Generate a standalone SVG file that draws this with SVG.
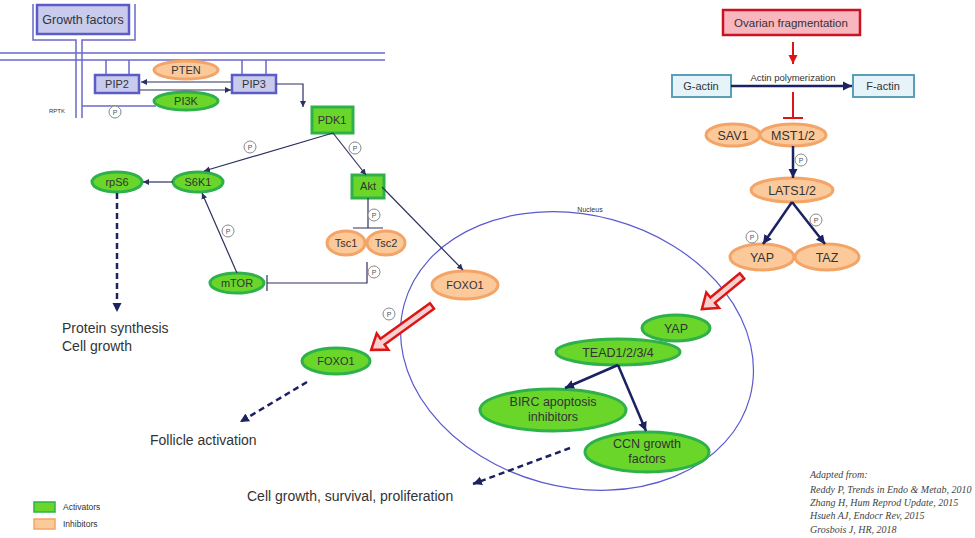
<svg xmlns="http://www.w3.org/2000/svg" width="975" height="538" viewBox="0 0 975 538">
<style>
text{font-family:"Liberation Sans",Arial,sans-serif;fill:#333;text-anchor:middle}
.g{fill:#6ad62a;stroke:#2eb04a;stroke-width:3}
.o{fill:#fcc99b;stroke:#f3a466;stroke-width:3}
.b{fill:#c8cbec;stroke:#5c5cc8;stroke-width:2.5}
.gb{fill:#6ad62a;stroke:#2eb04a;stroke-width:3}
.mem{stroke:#6a6acc;stroke-width:1.5;fill:none}
.c{stroke:#2c3060;stroke-width:1.2;fill:none}
.ct{stroke:#1c2160;stroke-width:2.5;fill:none}
.d{stroke:#1c2160;stroke-width:2.5;fill:none;stroke-dasharray:6 4}
.p circle{fill:#fff;stroke:#888;stroke-width:1}
.p text{font-size:7px;fill:#555}
.ra{fill:#f9d0d0;stroke:#dd1515;stroke-width:2.5}
.lbl{font-size:11px}
.lb2{font-size:12.5px}
.ref{font-family:"Liberation Serif",serif;font-style:italic;font-size:10px;text-anchor:start;fill:#444}
</style>
<defs>
<marker id="a" markerUnits="userSpaceOnUse" markerWidth="7" markerHeight="7" refX="6" refY="3.5" orient="auto"><path d="M0,0.5 L6,3.5 L0,6.5 z" fill="#2c3060"/></marker>
<marker id="at" markerUnits="userSpaceOnUse" markerWidth="10" markerHeight="10" refX="9" refY="5" orient="auto"><path d="M0,0.5 L9,5 L0,9.5 z" fill="#1c2160"/></marker>
<marker id="ar" markerUnits="userSpaceOnUse" markerWidth="10" markerHeight="10" refX="9" refY="5" orient="auto"><path d="M0,0.5 L9,5 L0,9.5 z" fill="#dd1515"/></marker>
</defs>

<!-- membrane and receptor -->
<g id="membrane">
<line class="mem" x1="0" y1="53" x2="385" y2="53"/>
<line class="mem" x1="0" y1="60" x2="385" y2="60"/>
<path class="mem" d="M33,4 V40 H76 V118"/>
<path class="mem" d="M135,4 V40 H82 V118"/>
<path class="mem" d="M106,60 V75 M129,60 V75 M242,60 V75 M266,60 V75"/>
<path class="mem" d="M82,106 H156"/>
<text x="57" y="113" style="font-size:6px">RPTK</text>
</g>

<g id="growth-factors"><rect class="b" x="37" y="5" width="92" height="29"/><text x="83" y="24" style="font-size:12.5px">Growth factors</text></g>
<g id="pip2"><rect class="b" x="95" y="75" width="44" height="18"/><text class="lbl" x="117" y="88">PIP2</text></g>
<g id="pip3"><rect class="b" x="232" y="75" width="44" height="18"/><text class="lbl" x="254" y="88">PIP3</text></g>
<g id="pten"><ellipse class="o" cx="186" cy="70" rx="32" ry="9"/><text class="lbl" x="186" y="74">PTEN</text></g>
<g id="pi3k"><ellipse class="g" cx="186" cy="101" rx="32" ry="9"/><text class="lbl" x="186" y="105">PI3K</text></g>
<g id="pdk1"><rect class="gb" x="312" y="107" width="41" height="26"/><text class="lbl" x="332" y="124">PDK1</text></g>
<g id="akt"><rect class="gb" x="352" y="175" width="32" height="23"/><text class="lbl" x="368" y="190">Akt</text></g>
<g id="s6k1"><ellipse class="g" cx="198" cy="182" rx="25" ry="10"/><text class="lbl" x="198" y="186">S6K1</text></g>
<g id="rps6"><ellipse class="g" cx="117" cy="182" rx="25" ry="10"/><text class="lbl" x="117" y="186">rpS6</text></g>
<g id="mtor"><ellipse class="g" cx="237" cy="283" rx="27" ry="10"/><text class="lbl" x="237" y="287">mTOR</text></g>
<g id="tsc1"><ellipse class="o" cx="346" cy="243" rx="19" ry="12"/><text class="lbl" x="346" y="247">Tsc1</text></g>
<g id="tsc2"><ellipse class="o" cx="386" cy="243" rx="19" ry="12"/><text class="lbl" x="386" y="247">Tsc2</text></g>
<g id="foxo1-cyt"><ellipse class="o" cx="465" cy="285" rx="33" ry="14"/><text class="lbl" x="465" y="289">FOXO1</text></g>
<g id="foxo1-act"><ellipse class="g" cx="336" cy="361" rx="34" ry="13"/><text class="lbl" x="336" y="365">FOXO1</text></g>

<!-- right side -->
<g id="ovarian"><rect x="723" y="10" width="137" height="25" fill="#f8b6be" stroke="#cc1122" stroke-width="2.5"/><text x="791" y="27" style="font-size:11.5px">Ovarian fragmentation</text></g>
<g id="g-actin"><rect x="672" y="75" width="59" height="22" fill="#e6f3f8" stroke="#5a9fb8" stroke-width="2"/><text class="lbl" x="701" y="90">G-actin</text></g>
<g id="f-actin"><rect x="853" y="75" width="61" height="22" fill="#e6f3f8" stroke="#5a9fb8" stroke-width="2"/><text class="lbl" x="883" y="90">F-actin</text></g>
<g id="sav1"><ellipse class="o" cx="733" cy="135" rx="27" ry="11"/><text class="lb2" x="733" y="139.5">SAV1</text></g>
<g id="mst"><ellipse class="o" cx="793" cy="135" rx="33" ry="11"/><text class="lb2" x="793" y="139.5">MST1/2</text></g>
<g id="lats"><ellipse class="o" cx="792" cy="190" rx="41" ry="12"/><text class="lb2" x="792" y="194.5">LATS1/2</text></g>
<g id="yap-cyt"><ellipse class="o" cx="762" cy="257" rx="32" ry="13"/><text class="lb2" x="762" y="261.5">YAP</text></g>
<g id="taz"><ellipse class="o" cx="827" cy="257" rx="32" ry="13"/><text class="lb2" x="827" y="261.5">TAZ</text></g>

<!-- nucleus -->
<g id="nucleus">
<ellipse cx="577" cy="351" rx="179" ry="136" transform="rotate(15 577 351)" fill="none" stroke="#5a5ad0" stroke-width="1.2"/>
<text x="590" y="212" style="font-size:7px">Nucleus</text>
</g>
<g id="yap-nuc"><ellipse class="g" cx="676" cy="328" rx="34" ry="13"/><text class="lb2" x="676" y="332.5">YAP</text></g>
<g id="tead"><ellipse class="g" cx="618" cy="352" rx="62" ry="13"/><text class="lb2" x="618" y="356.5">TEAD1/2/3/4</text></g>
<g id="birc"><ellipse class="g" cx="553" cy="410" rx="73" ry="21"/><text class="lb2" x="553" y="406">BIRC apoptosis</text><text class="lb2" x="553" y="421">inhibitors</text></g>
<g id="ccn"><ellipse class="g" cx="647" cy="452" rx="62" ry="20"/><text class="lb2" x="647" y="448">CCN growth</text><text class="lb2" x="647" y="463">factors</text></g>

<!-- connectors -->
<g id="connectors">
<line class="c" x1="231" y1="82" x2="141" y2="82" marker-end="url(#a)"/>
<line class="c" x1="140" y1="90" x2="231" y2="90" marker-end="url(#a)"/>
<path class="c" d="M276,84 H303 V107" marker-end="url(#a)"/>
<line class="c" x1="333" y1="133" x2="366" y2="175" marker-end="url(#a)"/>
<line class="c" x1="333" y1="133" x2="204" y2="171" marker-end="url(#a)"/>
<line class="c" x1="173" y1="182" x2="143" y2="182" marker-end="url(#a)"/>
<line class="c" x1="237" y1="273" x2="202" y2="193" marker-end="url(#a)"/>
<path class="c" d="M368,198 V228 M353,228 H383"/>
<path class="c" d="M367,262 V283 H267 M267,275 V291"/>
<line class="c" x1="382" y1="187" x2="463" y2="270" marker-end="url(#a)"/>
<line class="d" x1="117" y1="193" x2="117" y2="312" marker-end="url(#at)"/>
<line class="d" x1="307" y1="382" x2="240" y2="422" marker-end="url(#at)"/>
<line class="d" x1="570" y1="448" x2="473" y2="484" marker-end="url(#at)"/>
<line x1="793" y1="42" x2="793" y2="64" stroke="#dd1515" stroke-width="2" marker-end="url(#ar)"/>
<line class="ct" x1="731" y1="86" x2="852" y2="86" marker-end="url(#at)"/>
<path d="M793,92 V118 M783,118 H803" stroke="#dd1515" stroke-width="2" fill="none"/>
<line class="ct" x1="793" y1="146" x2="793" y2="178" marker-end="url(#at)"/>
<line class="ct" x1="792" y1="202" x2="763" y2="244" marker-end="url(#at)"/>
<line class="ct" x1="792" y1="202" x2="825" y2="244" marker-end="url(#at)"/>
<line class="ct" x1="618" y1="365" x2="565" y2="388" marker-end="url(#at)"/>
<line class="ct" x1="618" y1="365" x2="646" y2="431" marker-end="url(#at)"/>
<path class="ra" transform="translate(432,306) rotate(144.2)" d="M0,-3.5 H61 V-10 L75,0 L61,10 V3.5 H0 Z"/>
<path class="ra" transform="translate(742,276) rotate(140.5)" d="M0,-3.5 H38 V-10 L52,0 L38,10 V3.5 H0 Z"/>
<g class="p">
<circle cx="115" cy="112" r="6"/><text x="115" y="114.5">P</text>
<circle cx="250" cy="147" r="6"/><text x="250" y="149.5">P</text>
<circle cx="355" cy="148" r="6"/><text x="355" y="150.5">P</text>
<circle cx="228" cy="231" r="6"/><text x="228" y="233.5">P</text>
<circle cx="374" cy="215" r="6"/><text x="374" y="217.5">P</text>
<circle cx="374" cy="272" r="6"/><text x="374" y="274.5">P</text>
<circle cx="389" cy="314" r="6"/><text x="389" y="316.5">P</text>
<circle cx="801" cy="160" r="6"/><text x="801" y="162.5">P</text>
<circle cx="752" cy="237" r="6"/><text x="752" y="239.5">P</text>
<circle cx="816" cy="220" r="6"/><text x="816" y="222.5">P</text>
</g>
<text x="793" y="81" style="font-size:9.5px">Actin polymerization</text>
</g>

<!-- outcome labels -->
<g id="outcomes">
<text x="62" y="333" style="text-anchor:start;font-size:14px">Protein synthesis</text>
<text x="62" y="351" style="text-anchor:start;font-size:14px">Cell growth</text>
<text x="150" y="445" style="text-anchor:start;font-size:14px">Follicle activation</text>
<text x="247" y="501" style="text-anchor:start;font-size:14px">Cell growth, survival, proliferation</text>
</g>

<!-- legend -->
<g id="legend">
<rect x="34" y="502" width="21" height="10" fill="#6ad62a" stroke="#2eb04a" stroke-width="1.5"/>
<text x="63" y="510" style="text-anchor:start;font-size:8.5px">Activators</text>
<rect x="34" y="519" width="21" height="10" fill="#fcc99b" stroke="#f3a466" stroke-width="1.5"/>
<text x="63" y="527" style="text-anchor:start;font-size:8.5px">Inhibitors</text>
</g>

<g id="references">
<text class="ref" x="810" y="478">Adapted from:</text>
<text class="ref" x="810" y="493">Reddy P, Trends in Endo &amp; Metab, 2010</text>
<text class="ref" x="810" y="506">Zhang H, Hum Reprod Update, 2015</text>
<text class="ref" x="810" y="519">Hsueh  AJ, Endocr Rev, 2015</text>
<text class="ref" x="810" y="533">Grosbois J, HR, 2018</text>
</g>
</svg>
